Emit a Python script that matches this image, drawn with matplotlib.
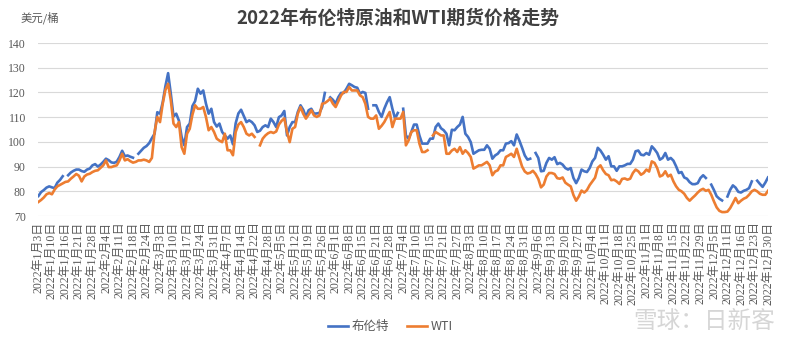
import numpy as np
import matplotlib
matplotlib.use("Agg")
import matplotlib.pyplot as plt
from matplotlib.lines import Line2D

nan = np.nan

# x-axis labels, one every 5 trading days
tick_labels = [
    "2022年1月3日", "2022年1月10日", "2022年1月16日", "2022年1月21日", "2022年1月28日",
    "2022年2月4日", "2022年2月11日", "2022年2月18日", "2022年2月24日", "2022年3月3日",
    "2022年3月10日", "2022年3月17日", "2022年3月24日", "2022年3月31日", "2022年4月7日",
    "2022年4月14日", "2022年4月22日", "2022年4月28日", "2022年5月5日", "2022年5月12日",
    "2022年5月19日", "2022年5月26日", "2022年6月1日", "2022年6月8日", "2022年6月15日",
    "2022年6月21日", "2022年6月28日", "2022年7月4日", "2022年7月10日", "2022年7月15日",
    "2022年7月21日", "2022年7月27日", "2022年8月3日", "2022年8月10日", "2022年8月17日",
    "2022年8月24日", "2022年8月31日", "2022年9月6日", "2022年9月13日", "2022年9月20日",
    "2022年9月27日", "2022年10月4日", "2022年10月11日", "2022年10月18日", "2022年10月25日",
    "2022年11月1日", "2022年11月8日", "2022年11月15日", "2022年11月22日", "2022年11月29日",
    "2022年12月5日", "2022年12月11日", "2022年12月16日", "2022年12月23日", "2022年12月30日",
]

# daily settlement prices, USD/bbl (nan = no quote that day)
brent = [
    78.1, 79.7, 80.5, 81.5, 82.0, 81.6, 81.3, 83.5, 84.6, 86.1,
    nan, 86.5, 87.6, 88.3, 88.8, 88.8, 88.2, 87.9, 88.8, 89.2,
    90.5, 91.0, 90.0, 90.8, 91.9, 93.2, 92.6, 91.7, 91.5, 92.0,
    93.9, 96.4, 94.2, 94.5, 94.0, 93.6, nan, 95.2, 96.4, 97.6,
    98.3, 99.5, 101.5, 103.3, 112.0, 111.4, 116.0, 122.5, 127.8, 119.5,
    110.3, 111.4, 108.6, 102.0, 98.6, 106.0, 107.4, 114.5, 116.5, 121.5,
    119.5, 120.8, 115.5, 111.4, 113.4, 108.0, 106.2, 107.4, 104.0, 102.6,
    101.3, 102.6, 99.0, 107.5, 111.5, 113.0, 110.5, 108.0, 108.7, 108.0,
    106.7, 104.0, 104.5, 106.0, 106.7, 106.0, 109.4, 108.0, 106.0, 110.0,
    110.7, 112.5, 102.6, 106.0, 108.0, 108.0, 112.1, 114.8, 113.0, 110.1,
    112.8, 113.4, 111.4, 111.5, 111.7, 114.1, 119.8, nan, 118.0, 117.0,
    115.5, 118.1, 119.8, 119.8, 121.5, 123.5, 122.9, 122.2, 121.9, 119.5,
    120.2, 119.8, 113.4, nan, 114.8, 114.8, 112.1, 110.1, 113.4, 116.0,
    118.1, 113.4, 109.4, 111.7, nan, 113.4, 102.6, 101.3, 104.0, 107.0,
    107.0, 102.6, 99.3, 99.3, 99.3, 101.3, 101.3, 106.0, 107.4, 105.5,
    104.7, 103.3, 98.6, 104.9, 104.7, 106.0, 107.0, 110.1, 103.3, 102.0,
    99.9, 95.2, 95.9, 96.6, 96.8, 96.8, 98.6, 97.2, 93.2, 94.5,
    95.2, 96.6, 96.6, 99.3, 99.5, 100.3, 98.6, 103.0, 100.5, 97.6,
    94.5, 92.8, 93.2, nan, 95.5, 93.5, 88.1, 88.3, 91.5, 93.5,
    92.8, 93.8, 91.0, 91.5, 90.8, 89.4, 88.8, 89.4, 85.4, 83.3,
    85.4, 88.8, 88.1, 87.8, 89.4, 92.1, 93.5, 97.6, 96.5, 94.8,
    92.8, 94.2, 90.1, 90.1, 88.3, 90.1, 90.1, 90.5, 91.1, 91.1,
    92.8, 96.2, 96.5, 94.8, 94.6, 95.5, 94.8, 98.2, 97.0, 95.5,
    92.8, 93.5, 95.5, 92.8, 93.5, 92.4, 90.1, 87.4, 87.8, 85.6,
    85.1, 83.7, 82.9, 82.9, 83.3, 85.4, 86.5, 85.4, nan, 82.7,
    80.5, 78.0, 77.0, 76.3, nan, 77.9, 80.6, 82.4, 81.5, 79.8,
    79.5, 80.2, 80.6, 81.3, 84.0, nan, 84.3, 83.0, 81.8, 83.5,
    85.6,
]

wti = [
    75.7, 76.5, 77.5, 78.8, 79.3, 78.8, 80.7, 82.0, 82.6, 83.2,
    83.8, 84.0, 85.1, 86.0, 87.0, 86.3, 84.0, 86.0, 86.8, 87.1,
    87.8, 88.3, 88.5, 89.5, 90.5, 92.5, 89.8, 89.8, 90.2, 90.5,
    92.5, 95.2, 92.5, 93.0, 92.2, 91.6, 91.9, 92.5, 92.5, 92.8,
    92.5, 91.9, 93.5, 104.0, 110.1, 108.0, 115.4, 121.0, 123.5, 116.8,
    107.4, 106.0, 108.0, 97.9, 95.2, 103.3, 105.3, 111.0, 114.8, 113.4,
    113.4, 114.1, 110.1, 104.7, 106.0, 104.0, 101.3, 100.5, 99.9, 103.3,
    96.6, 96.6, 94.6, 104.0, 107.0, 108.0, 106.0, 103.3, 102.6, 103.3,
    102.0, nan, 98.6, 101.3, 102.6, 103.5, 104.0, 103.6, 104.2, 107.0,
    108.5, 109.5, 104.0, 99.9, 105.3, 106.0, 111.4, 114.1, 111.4, 109.4,
    111.0, 112.8, 110.7, 110.1, 110.7, 115.4, 115.7, 116.5, 117.5, 115.4,
    114.1, 116.5, 118.8, 120.2, 120.2, 122.2, 120.8, 120.8, 120.8, 118.8,
    118.1, 115.4, 110.1, 109.4, 109.4, 110.7, 105.3, 106.5, 108.0, 110.1,
    112.1, 106.0, 109.4, 109.4, 109.4, 112.1, 98.6, 100.6, 104.0, 104.7,
    104.7, 99.3, 95.9, 95.9, 96.6, nan, 102.6, 104.0, 103.3, 102.6,
    102.6, 95.2, 95.2, 96.5, 97.2, 95.9, 97.9, 95.2, 96.6, 95.5,
    93.9, 89.2, 89.8, 90.5, 90.5, 91.2, 91.9, 90.5, 86.5, 88.0,
    88.5, 90.5, 90.5, 93.9, 94.5, 95.2, 93.9, 97.2, 93.5, 90.0,
    88.0, 87.2, 87.5, 88.3, 87.0, 85.0, 81.6, 82.7, 86.0, 87.4,
    87.4, 87.0, 85.3, 85.1, 85.6, 83.5, 82.7, 82.0, 78.5, 76.2,
    77.9, 80.3, 79.5, 80.5, 82.5, 84.0, 85.5, 89.5, 90.5, 88.5,
    87.0, 86.5, 84.5, 84.7, 84.0, 83.0, 85.0, 85.2, 84.7, 85.1,
    87.4, 88.8, 88.1, 86.7, 87.4, 88.8, 88.0, 92.1, 91.5, 89.4,
    86.0, 86.5, 88.1, 86.0, 86.7, 84.0, 82.0, 80.6, 80.0, 79.0,
    77.3, 76.2, 77.3, 78.3, 79.5, 80.5, 81.0, 80.2, 80.6, 78.6,
    75.9, 73.5, 72.1, 71.6, 71.6, 71.8, 73.2, 75.2, 77.3, 75.2,
    76.2, 77.0, 77.5, 78.6, 80.0, 80.6, 80.0, 79.0, 78.6, 78.6,
    80.2,
]

BLUE = "#4472C4"
ORANGE = "#ED7D31"
CJK = ["Noto Sans CJK SC", "DejaVu Sans"]
SERIF_CJK = ["Liberation Serif", "Noto Sans CJK SC"]

x = np.arange(len(brent))

fig = plt.figure(figsize=(8, 3.44), dpi=100)
ax = fig.add_axes([0.048, 0.372, 0.912, 0.503])

ax.plot(x, brent, color=BLUE, lw=1.9, solid_joinstyle="round")
ax.plot(x, wti, color=ORANGE, lw=1.9, solid_joinstyle="round")

ax.set_xlim(0, len(brent) - 1)
ax.set_ylim(70, 140)
ax.set_yticks(np.arange(70, 141, 10))
ax.grid(axis="y", color="#D9D9D9", lw=0.8)
ax.set_axisbelow(True)
for s in ax.spines.values():
    s.set_visible(False)

ax.set_xticks(np.arange(0, len(brent), 5))
ax.set_xticklabels(tick_labels, rotation=90, fontsize=8.6, color="#595959",
                   family=SERIF_CJK, va="top", ha="center")
ax.tick_params(axis="x", length=0, pad=4)
ax.tick_params(axis="y", length=0, pad=9, labelsize=8.5, labelcolor="#595959")
for lbl in ax.get_yticklabels():
    lbl.set_family("Liberation Serif")

fig.text(0.498, 0.948, "2022年布伦特原油和WTI期货价格走势", ha="center", va="center",
         fontsize=13.5, fontweight="bold", color="#404040", family=CJK)
fig.text(0.026, 0.948, "美元/桶", ha="left", va="center", fontsize=8.2,
         color="#595959", family=CJK)

handles = [Line2D([], [], color=BLUE, lw=1.9), Line2D([], [], color=ORANGE, lw=1.9)]
fig.legend(handles, ["布伦特", "WTI"], loc="center", bbox_to_anchor=(0.488, 0.05),
           ncol=2, frameon=False, handlelength=1.6, handletextpad=0.3,
           columnspacing=1.4, prop={"family": CJK, "size": 9},
           labelcolor="#595959")

# site watermark
fig.text(0.88, 0.065, "雪球：日新客", ha="center", va="center", fontsize=17,
         color="#D6D6D6", family=CJK)

fig.savefig("out.png", dpi=100)
